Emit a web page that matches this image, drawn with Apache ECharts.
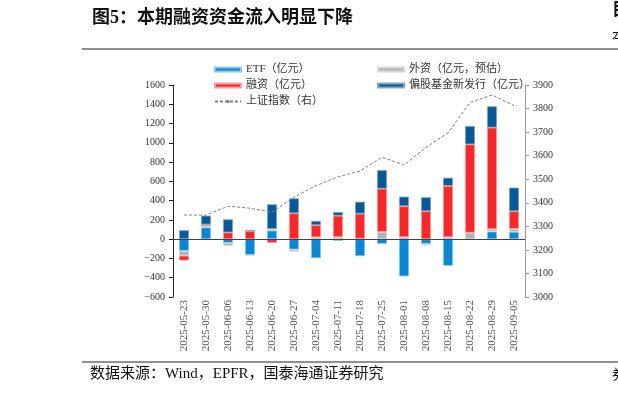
<!DOCTYPE html>
<html>
<head>
<meta charset="utf-8">
<script src="https://cdn.jsdelivr.net/npm/echarts@6/dist/echarts.min.js"></script>
<style>
  html, body { margin: 0; padding: 0; background: #fff; }
  #chart { width: 618px; height: 399px; }
</style>
</head>
<body>
<div id="chart"></div>
<script>
// 周度数据（亿元）
const weeks = ['2025-05-23', '2025-05-30', '2025-06-06', '2025-06-13', '2025-06-20', '2025-06-27',
  '2025-07-04', '2025-07-11', '2025-07-18', '2025-07-25', '2025-08-01', '2025-08-08',
  '2025-08-15', '2025-08-22', '2025-08-29', '2025-09-05']
const etfFlow = [-121, 121, -38, -166, 90, -107, -197, -17, -176, -48, -386, -48, -276, 0, 79, 76]
const foreignFlow = [-50, 31, -33, 0, 17, -21, 20, 22, 5, 76, 21, -17, 21, 67, 24, 31]
const marginFlow = [-50, 0, 70, 86, -38, 269, 125, 222, 260, 448, 321, 290, 531, 917, 1055, 183]
const fundIssue = [93, 92, 136, 10, 255, 155, 45, 38, 124, 193, 100, 145, 86, 190, 221, 245]
const shIndex = [3348.37, 3347.49, 3385.36, 3377.00, 3359.90, 3424.23, 3472.32, 3510.18, 3534.48,
  3593.66, 3559.95, 3635.13, 3696.77, 3825.76, 3857.93, 3812.51]

const serif = '"Liberation Serif", "Noto Sans CJK SC", serif'
const chart = echarts.init(document.getElementById('chart'))

function barSeries(name, data, color, edge) {
  return {
    name: name,
    type: 'bar',
    stack: 'flow',
    barWidth: 10,
    data: data,
    itemStyle: { color: color, borderColor: edge, borderWidth: 0.8 },
    emphasis: { disabled: true }
  }
}

const minus = v => String(v).replace('-', '\u2212')

const series = [
  barSeries('ETF（亿元）', etfFlow, '#0A86D2', '#8cc6ec'),
  barSeries('外资（亿元，预估）', foreignFlow, '#B2B2B2', '#d8d8d8'),
  barSeries('融资（亿元）', marginFlow, '#F42A2A', '#f79c9c'),
  barSeries('偏股基金新发行（亿元）', fundIssue, '#0A5896', '#7fa8c8'),
  {
    name: '上证指数（右）',
    type: 'line',
    yAxisIndex: 1,
    data: shIndex,
    symbol: 'none',
    z: 5,
    lineStyle: { color: '#808080', width: 1, type: [3, 2] },
    itemStyle: { color: '#808080' },
    emphasis: { disabled: true }
  }
]
// 零轴线
series[0].markLine = {
  silent: true, symbol: 'none', label: { show: false }, z: 10,
  lineStyle: { color: '#404040', width: 1.2, type: 'solid' },
  data: [{ yAxis: 0 }]
}

chart.setOption({
  animation: false,
  grid: { left: 173, right: 93, top: 85, bottom: 102, outerBoundsMode: 'none' },
  legend: [
    {
      left: 209, top: 59, orient: 'vertical', itemGap: 5,
      itemWidth: 26, itemHeight: 4,
      textStyle: { fontFamily: serif, fontSize: 11, color: '#333' },
      data: [
        { name: 'ETF（亿元）', icon: 'rect' },
        { name: '融资（亿元）', icon: 'rect' },
        { name: '上证指数（右）' }
      ]
    },
    {
      left: 372, top: 59, orient: 'vertical', itemGap: 5,
      itemWidth: 26, itemHeight: 4,
      textStyle: { fontFamily: serif, fontSize: 11, color: '#333' },
      data: [
        { name: '外资（亿元，预估）', icon: 'rect' },
        { name: '偏股基金新发行（亿元）', icon: 'rect' }
      ]
    }
  ],
  xAxis: {
    type: 'category',
    data: weeks,
    axisLine: { show: false, onZero: false },
    axisTick: { show: false },
    axisLabel: { rotate: 90, fontFamily: serif, fontSize: 11, color: '#555', margin: 3 }
  },
  yAxis: [
    {
      type: 'value', min: -600, max: 1600, interval: 200,
      splitLine: { show: false },
      axisLine: { show: true, onZero: false, lineStyle: { color: '#222' } },
      axisTick: { show: true, length: 4, lineStyle: { color: '#222' } },
      axisLabel: { fontFamily: serif, fontSize: 10, color: '#333', formatter: minus }
    },
    {
      type: 'value', min: 3000, max: 3900, interval: 100,
      splitLine: { show: false },
      axisLine: { show: true, onZero: false, lineStyle: { color: '#999' } },
      axisTick: { show: true, length: 4, lineStyle: { color: '#999' } },
      axisLabel: { fontFamily: serif, fontSize: 10, color: '#333', formatter: v => String(v) }
    }
  ],
  series: series,
  graphic: [
    {
      type: 'text', left: 92, top: 9,
      style: { text: '图5：本期融资资金流入明显下降', font: 'bold 18px ' + serif, fill: '#111' }
    },
    { type: 'line', shape: { x1: 82, y1: 49, x2: 618, y2: 49 }, style: { stroke: '#222', lineWidth: 1 } },
    { type: 'line', shape: { x1: 82, y1: 362, x2: 618, y2: 362 }, style: { stroke: '#222', lineWidth: 1 } },
    {
      type: 'text', left: 90, top: 367,
      style: { text: '数据来源：Wind，EPFR，国泰海通证券研究', font: '15px ' + serif, fill: '#111' }
    },
    { type: 'text', left: 612, top: 2, style: { text: '目', font: 'bold 17px ' + serif, fill: '#111' } },
    { type: 'text', left: 612, top: 30, style: { text: '本', font: '13px ' + serif, fill: '#111' } },
    { type: 'text', left: 612, top: 368, style: { text: '券', font: '14px ' + serif, fill: '#111' } }
  ]
})
</script>
</body>
</html>
